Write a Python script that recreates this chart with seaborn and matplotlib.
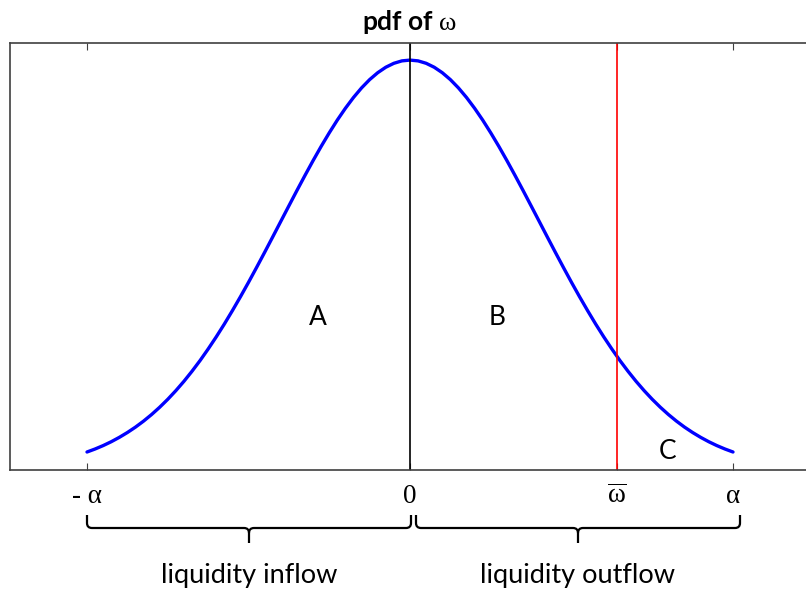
import numpy as np
import pandas as pd
import seaborn as sns
import matplotlib
matplotlib.use("Agg")
import matplotlib.pyplot as plt
from matplotlib.path import Path
from matplotlib.patches import PathPatch
from matplotlib.transforms import IdentityTransform

# ---- data (density of omega on [-alpha, alpha]) ----
omega_pos = [0.000, 0.025, 0.050, 0.075, 0.100, 0.125, 0.150, 0.175, 0.200,
             0.225, 0.250, 0.275, 0.300, 0.325, 0.350, 0.375, 0.400, 0.425,
             0.450, 0.475, 0.500, 0.525, 0.550, 0.575, 0.600, 0.625, 0.650,
             0.675, 0.700, 0.725, 0.750, 0.775, 0.800, 0.825, 0.850, 0.875,
             0.900, 0.925, 0.950, 0.975, 1.000]
pdf_pos = [0.9974, 0.9955, 0.9896, 0.9800, 0.9667, 0.9499, 0.9297, 0.9064,
           0.8802, 0.8515, 0.8204, 0.7875, 0.7529, 0.7170, 0.6802, 0.6427,
           0.6050, 0.5672, 0.5297, 0.4928, 0.4566, 0.4215, 0.3876, 0.3549,
           0.3238, 0.2943, 0.2663, 0.2402, 0.2157, 0.1930, 0.1720, 0.1527,
           0.1350, 0.1189, 0.1043, 0.0912, 0.0794, 0.0688, 0.0594, 0.0511,
           0.0438]
omega_bar = 0.64
alpha = 1.0
tick_pos = [-alpha, 0.0, omega_bar, alpha]
tick_labels = ["- α", "0", r"$\overline{\mathrm{ω}}$", "α"]
region_labels = ["A", "B", "C"]
region_x = [-0.285, 0.27, 0.796]
region_y = [0.37, 0.37, 0.046]
brace_labels = ["liquidity inflow", "liquidity outflow"]

omega = [-v for v in omega_pos[:0:-1]] + omega_pos
pdf = pdf_pos[:0:-1] + pdf_pos
df = pd.DataFrame({"omega": omega, "pdf": pdf})

sns.set_theme(style="white")
plt.rcParams["font.family"] = ["Lato", "DejaVu Sans"]
plt.rcParams["mathtext.fontset"] = "custom"
plt.rcParams["mathtext.rm"] = "Liberation Serif"
plt.rcParams["mathtext.it"] = "Liberation Serif:italic"
plt.rcParams["mathtext.bf"] = "Liberation Serif:bold"

W, H = 806, 593
fig = plt.figure(figsize=(W / 100, H / 100), dpi=100)
ax = fig.add_axes([10 / W, (H - 470) / H, 800 / W, 427 / H])

sns.lineplot(data=df, x="omega", y="pdf", ax=ax, color="#0000ff", lw=2.4,
             sort=False, estimator=None)
for ln in ax.lines:
    ln.set_solid_joinstyle("round")
    ln.set_solid_capstyle("round")
ax.axvline(0.0, color="black", lw=1.2)
ax.axvline(omega_bar, color="#ff0000", lw=1.2)

ax.set_xlim(-400 / 323, 400 / 323)
ax.set_ylim(0, 1.039)
ax.set_xlabel("")
ax.set_ylabel("")
ax.set_yticks([])

ax.set_xticks(tick_pos)
ax.set_xticklabels(tick_labels, family=["Liberation Serif", "DejaVu Serif"],
                   fontsize=19.5)
ax.tick_params(axis="x", direction="in", length=5, width=0.8, colors="#404040",
               labelcolor="black", top=True, bottom=True, pad=10)

for s in ["left", "bottom", "top", "right"]:
    ax.spines[s].set_color("#404040")
    ax.spines[s].set_linewidth(1.2)

ax.set_title(r"pdf of $\mathrm{ω}$", fontweight="bold", fontsize=19, pad=9,
             color="black")

for t, x, y in zip(region_labels, region_x, region_y):
    ax.text(x, y, t, fontsize=19, ha="center", va="center", color="black")

# ---- braces below the axis (display pixel coordinates) ----
def brace(x0, x1, ytop=515, ymid=528, ytip=543, r=5):
    xm = (x0 + x1) / 2
    Y = lambda y: H - y
    verts = [(x0, Y(ytop)), (x0, Y(ymid - r)), (x0, Y(ymid)), (x0 + r, Y(ymid)),
             (xm - r, Y(ymid)), (xm, Y(ymid)), (xm, Y(ymid + r)), (xm, Y(ytip)),
             (xm, Y(ymid + r)), (xm, Y(ymid)), (xm + r, Y(ymid)),
             (x1 - r, Y(ymid)), (x1, Y(ymid)), (x1, Y(ymid - r)), (x1, Y(ytop))]
    codes = [Path.MOVETO, Path.LINETO, Path.CURVE3, Path.CURVE3,
             Path.LINETO, Path.CURVE3, Path.CURVE3, Path.LINETO,
             Path.MOVETO, Path.CURVE3, Path.CURVE3,
             Path.LINETO, Path.CURVE3, Path.CURVE3, Path.LINETO]
    fig.add_artist(PathPatch(Path(verts, codes), fill=False, lw=1.6,
                             edgecolor="black", transform=IdentityTransform(),
                             capstyle="butt", joinstyle="round"))
    return xm

px = lambda v: ax.transData.transform((v, 0))[0]
spans = [(px(-alpha), px(0.0) + 1), (px(0.0) + 6, px(alpha) + 7)]
for (a, b), label in zip(spans, brace_labels):
    xm = brace(a, b)
    fig.text(xm / W, (H - 576) / H, label, fontsize=19.5, ha="center",
             va="center", color="black")

fig.savefig("out.png", dpi=100)
